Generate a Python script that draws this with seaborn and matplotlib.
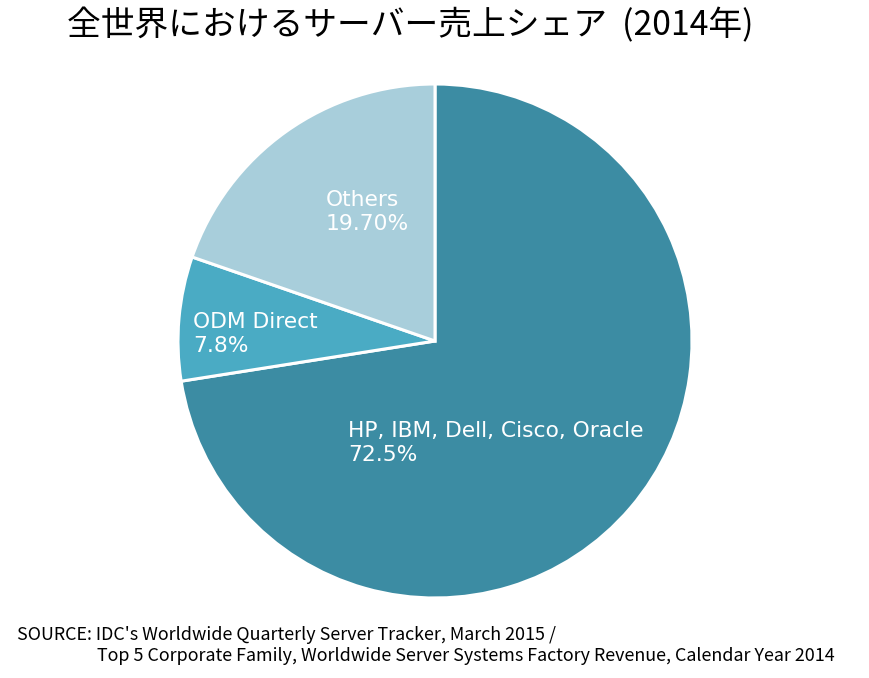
import matplotlib
matplotlib.use("Agg")
import matplotlib.pyplot as plt
import seaborn as sns

# データ
labels = ["HP, IBM, Dell, Cisco, Oracle", "ODM Direct", "Others"]
shares = [72.5, 7.8, 19.7]
share_texts = ["72.5%", "7.8%", "19.70%"]
colors = ["#3C8CA3", "#4AABC4", "#A8CEDB"]

sns.set_theme(style="white")
plt.rcParams["font.family"] = ["Noto Sans CJK JP", "DejaVu Sans"]

fig = plt.figure(figsize=(8.7, 6.78), dpi=100)
ax = fig.add_axes([(435 - 257) / 870, (678 - 598) / 678, 514 / 870, 514 / 678])

wedges, _ = ax.pie(
    shares,
    colors=sns.color_palette(colors),
    startangle=90,
    counterclock=False,
    radius=1,
    wedgeprops=dict(edgecolor="white", linewidth=2.2),
)
ax.set_aspect("equal")
ax.set_xlim(-1, 1)
ax.set_ylim(-1, 1)
ax.axis("off")

# ラベル位置 (pie の座標系)
label_pos = [(-0.339, -0.397), (-0.942, 0.027), (-0.424, 0.502)]
for (x, y), name, txt in zip(label_pos, labels, share_texts):
    ax.text(x, y, f"{name}\n{txt}", ha="left", va="center", color="white",
            fontsize=15.7, family="DejaVu Sans", linespacing=1.25)

fig.text(67 / 870, 1 - 26 / 678, "全世界におけるサーバー売上シェア  (2014年)",
         ha="left", va="center", fontsize=24.3, color="black")

fig.text(17 / 870, 1 - 635 / 678,
         "SOURCE: IDC's Worldwide Quarterly Server Tracker, March 2015 /",
         ha="left", va="center", fontsize=12.9, color="black")
fig.text(97 / 870, 1 - 656 / 678,
         "Top 5 Corporate Family, Worldwide Server Systems Factory Revenue, Calendar Year 2014",
         ha="left", va="center", fontsize=12.9, color="black")

fig.savefig("out.png", dpi=100)
